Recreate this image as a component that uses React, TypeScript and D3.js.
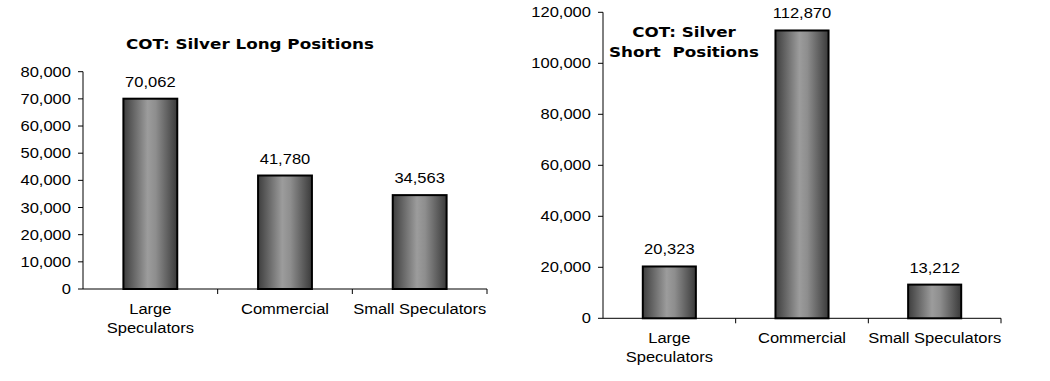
import React from "react";
import * as d3 from "d3";

const categories = ["Large Speculators", "Commercial", "Small Speculators"];
const categoryLines = [["Large", "Speculators"], ["Commercial"], ["Small Speculators"]];
const longValues = [70062, 41780, 34563];
const shortValues = [20323, 112870, 13212];
const longTicks = [0, 10000, 20000, 30000, 40000, 50000, 60000, 70000, 80000];
const shortTicks = [0, 20000, 40000, 60000, 80000, 100000, 120000];
const longTitle = ["COT: Silver Long Positions"];
const shortTitle = ["COT: Silver", "Short  Positions"];

const fmt = d3.format(",");
const SX = 1.14;

function SText({ x, y, children, anchor = "middle", size = 14.5, weight = "normal", family = "'Liberation Sans', Arial, sans-serif" }: any) {
  return (
    <text
      transform={`translate(${x},${y}) scale(${SX},1)`}
      textAnchor={anchor}
      fontSize={size}
      fontWeight={weight}
      fontFamily={family}
      fill="#000"
      style={{ whiteSpace: "pre" }}
    >
      {children}
    </text>
  );
}

function Panel({ values, ticks, max, x0, x1, y0, y1, title, titleX, titleY, titleGap, gradId }: any) {
  const x = d3.scaleBand<string>().domain(categories).range([x0, x1]).paddingInner(0.6).paddingOuter(0.3);
  const y = d3.scaleLinear().domain([0, max]).range([y0, y1]);
  const step = x.step();
  return (
    <g>
      {title.map((t: string, i: number) => (
        <SText key={i} x={titleX} y={titleY + i * titleGap} size={14.7} weight="bold" family="'DejaVu Sans', Verdana, sans-serif">
          {t}
        </SText>
      ))}
      <line x1={x0} x2={x0} y1={y1} y2={y0} stroke="#000" strokeWidth={1} />
      {ticks.map((t: number) => (
        <g key={t}>
          <line x1={x0 - 5} x2={x0} y1={y(t)} y2={y(t)} stroke="#000" />
          <SText x={x0 - 12} y={y(t) + 5} anchor="end">
            {fmt(t)}
          </SText>
        </g>
      ))}
      <line x1={x0} x2={x1} y1={y0} y2={y0} stroke="#000" />
      {categories.map((c, i) => (
        <line key={c} x1={x0 + (i + 1) * step} x2={x0 + (i + 1) * step} y1={y0} y2={y0 + 5} stroke="#000" />
      ))}
      {categories.map((c, i) => {
        const bx = x(c)!;
        const bw = x.bandwidth();
        const top = y(values[i]);
        return (
          <g key={c}>
            <rect x={bx} y={top} width={bw} height={y0 - top} fill={`url(#${gradId})`} stroke="#000" strokeWidth={2} />
            <SText x={bx + bw / 2} y={top - 12}>{fmt(values[i])}</SText>
            {categoryLines[i].map((l, j) => (
              <SText key={j} x={x0 + (i + 0.5) * step} y={y0 + 25 + j * 19}>{l}</SText>
            ))}
          </g>
        );
      })}
    </g>
  );
}

export default function App() {
  return (
    <svg width={1050} height={381} style={{ position: "absolute", left: 0, top: 0, background: "#fff" }}>
      <defs>
        <linearGradient id="barGrad" x1="0" x2="1" y1="0" y2="0">
          <stop offset="0%" stopColor="#3e3e3e" />
          <stop offset="45%" stopColor="#9c9c9c" />
          <stop offset="60%" stopColor="#8e8e8e" />
          <stop offset="100%" stopColor="#3a3a3a" />
        </linearGradient>
      </defs>
      <rect width={1050} height={381} fill="#fff" />
      <Panel values={longValues} ticks={longTicks} max={80000} x0={83} x1={487} y0={289} y1={71.7}
        title={longTitle} titleX={250} titleY={49} titleGap={20} gradId="barGrad" />
      <Panel values={shortValues} ticks={shortTicks} max={120000} x0={603} x1={1001} y0={318.3} y1={12.3}
        title={shortTitle} titleX={684} titleY={37} titleGap={20} gradId="barGrad" />
    </svg>
  );
}
